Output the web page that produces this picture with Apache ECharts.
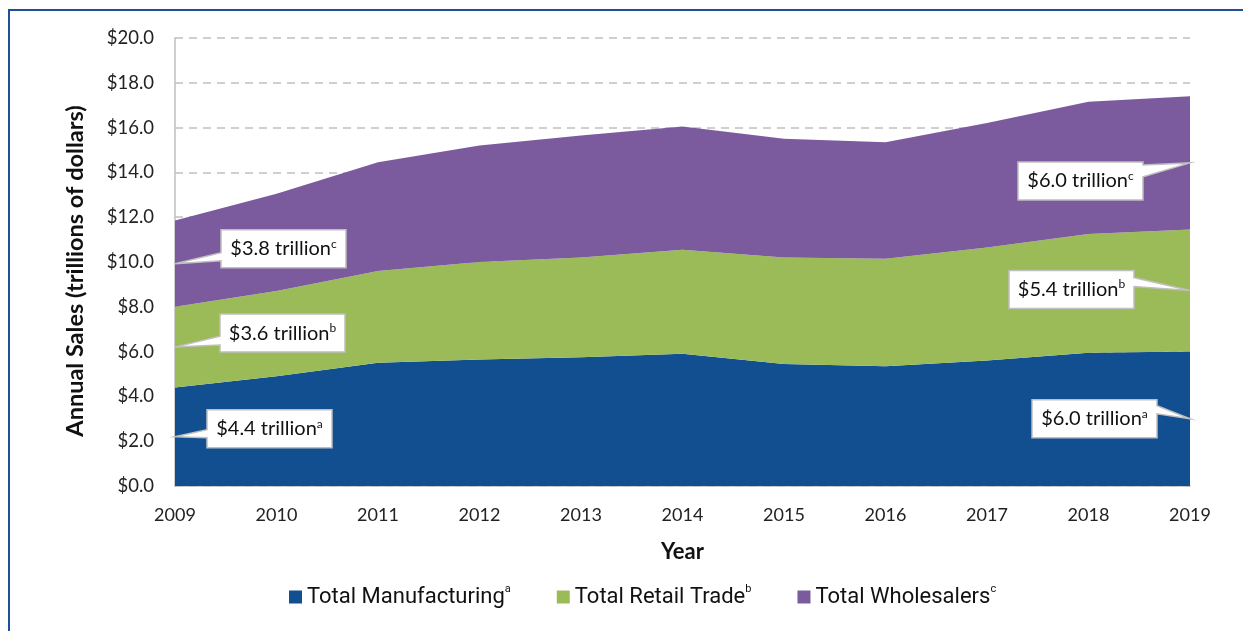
<!DOCTYPE html>
<html>
<head>
<meta charset="utf-8">
<script src="https://cdn.jsdelivr.net/npm/echarts@6/dist/echarts.min.js"></script>
<style>
  html, body { margin: 0; padding: 0; background: #fff; }
  #main { width: 1243px; height: 631px; }
</style>
</head>
<body>
<div id="main"></div>
<script>
// data (trillions of dollars)
const years = ['2009', '2010', '2011', '2012', '2013', '2014', '2015', '2016', '2017', '2018', '2019'];
const manufacturing = [4.4, 4.9, 5.5, 5.65, 5.75, 5.9, 5.45, 5.35, 5.6, 5.95, 6.0];
const retail = [3.6, 3.8, 4.1, 4.35, 4.45, 4.65, 4.75, 4.8, 5.05, 5.3, 5.45];
const wholesale = [3.85, 4.35, 4.85, 5.2, 5.45, 5.5, 5.3, 5.2, 5.55, 5.9, 5.95];
const seriesNames = ['Total Manufacturing', 'Total Retail Trade', 'Total Wholesalers'];
const seriesNotes = ['a', 'b', 'c'];
const yTicks = [0, 2, 4, 6, 8, 10, 12, 14, 16, 18, 20];
const calloutText = ['$4.4 trillion', '$3.6 trillion', '$3.8 trillion', '$6.0 trillion', '$5.4 trillion', '$6.0 trillion'];

const colors = ['#124f91', '#9bbb59', '#7b5b9e'];
const FONT = 'Lato, "Open Sans", sans-serif';

var chart = echarts.init(document.getElementById('main'));

function areaSeries(name, data, i) {
    return {
        name: name,
        type: 'line',
        stack: 'Total',
        data: data,
        showSymbol: false,
        smooth: false,
        lineStyle: { width: 0 },
        areaStyle: { color: colors[i], opacity: 1 },
        itemStyle: { color: colors[i] },
        emphasis: { disabled: true },
        silent: true
    };
}

var option = {
    animation: false,
    grid: { left: 175, right: 53, top: 38, bottom: 145 },
    legend: {
        bottom: 18,
        left: 284,
        itemWidth: 13,
        itemHeight: 13,
        itemGap: 46,
        icon: 'rect',
        data: seriesNames,
        formatter: function (name) {
            return '{n|' + name + '}{s|' + seriesNotes[seriesNames.indexOf(name)] + '}';
        },
        textStyle: {
            rich: {
                n: { fontSize: 22, fontFamily: 'Roboto, sans-serif', color: '#111', lineHeight: 26 },
                s: { fontSize: 11, fontFamily: 'Roboto, sans-serif', color: '#111', verticalAlign: 'top', lineHeight: 26 }
            }
        }
    },
    xAxis: {
        type: 'category',
        boundaryGap: false,
        data: years,
        name: 'Year',
        nameLocation: 'middle',
        nameGap: 55,
        nameTextStyle: { fontSize: 22, fontWeight: 'bold', fontFamily: FONT, color: '#111' },
        axisLine: { lineStyle: { color: '#bfbfbf', width: 1.5 } },
        axisTick: { show: false },
        axisLabel: { fontSize: 18, fontFamily: FONT, color: '#222', margin: 20 },
        splitLine: { show: false }
    },
    yAxis: {
        type: 'value',
        min: 0,
        max: 20,
        interval: 2,
        name: 'Annual Sales (trillions of dollars)',
        nameLocation: 'middle',
        nameGap: 88,
        nameTextStyle: { fontSize: 23.5, fontWeight: 'bold', fontFamily: FONT, color: '#111', padding: [0, 18, 0, 0] },
        axisLine: { show: true, lineStyle: { color: '#bfbfbf', width: 1.5 } },
        axisTick: { show: false },
        axisLabel: {
            fontSize: 18.5, fontFamily: FONT, color: '#222', margin: 21,
            formatter: function (v) { return yTicks.indexOf(v) >= 0 ? '$' + v.toFixed(1) : ''; }
        },
        splitLine: { show: true, lineStyle: { color: '#c0c0c0', width: 1.5, type: [8, 6] } }
    },
    series: [
        areaSeries(seriesNames[0], manufacturing, 0),
        areaSeries(seriesNames[1], retail, 1),
        areaSeries(seriesNames[2], wholesale, 2)
    ]
};
chart.setOption(option);

// callouts: tip sits at the middle of each band, at the first or last year
var stacks = [manufacturing, retail, wholesale];
function bandMid(s, k) {
    var base = 0;
    for (var j = 0; j < s; j++) base += stacks[j][k];
    return base + stacks[s][k] / 2;
}
// [series, yearIndex, side, box dx, box dy, wedge y1, wedge y2]
var callouts = [
    [0, 0, 'left', 32, -27, 20, 28],
    [1, 0, 'left', 45, -33, 22, 31],
    [2, 0, 'left', 46, -34, 23, 31],
    [0, 10, 'right', -33, -19, 6, 14],
    [1, 10, 'right', -56, -20, 7, 16],
    [2, 10, 'right', -47, -1, 3, 15]
];
var BW = 125, BH = 38;
var graphics = [{
    type: 'rect',
    shape: { x: 9, y: 10, width: 1300, height: 700 },
    style: { fill: null, stroke: '#1f4f99', lineWidth: 2 },
    silent: true
}];
callouts.forEach(function (c, i) {
    var tip = chart.convertToPixel({ gridIndex: 0 }, [c[1], bandMid(c[0], c[1])]);
    var x0, x1, y0 = tip[1] + c[4], y1 = y0 + BH, pts;
    if (c[2] === 'left') {
        x0 = tip[0] + c[3]; x1 = x0 + BW;
        pts = [[x0, y0], [x1, y0], [x1, y1], [x0, y1], [x0, y0 + c[6]], tip, [x0, y0 + c[5]]];
    } else {
        x1 = tip[0] + c[3]; x0 = x1 - BW;
        pts = [[x0, y0], [x1, y0], [x1, y0 + c[5]], tip, [x1, y0 + c[6]], [x1, y1], [x0, y1]];
    }
    graphics.push({
        type: 'polygon',
        z: 100,
        shape: { points: pts },
        style: { fill: '#fff', stroke: '#bfbfbf', lineWidth: 1.5 },
        silent: true
    });
    graphics.push({
        type: 'text',
        z: 101,
        x: (x0 + x1) / 2,
        y: (y0 + y1) / 2,
        style: {
            text: '{t|' + calloutText[i] + '}{s|' + seriesNotes[c[0]] + '}',
            align: 'center',
            verticalAlign: 'middle',
            rich: {
                t: { fontSize: 20, fontFamily: FONT, fill: '#111', lineHeight: 22 },
                s: { fontSize: 12, fontFamily: FONT, fill: '#111', verticalAlign: 'top', lineHeight: 22 }
            }
        },
        silent: true
    });
});
chart.setOption({ graphic: graphics });
</script>
</body>
</html>
